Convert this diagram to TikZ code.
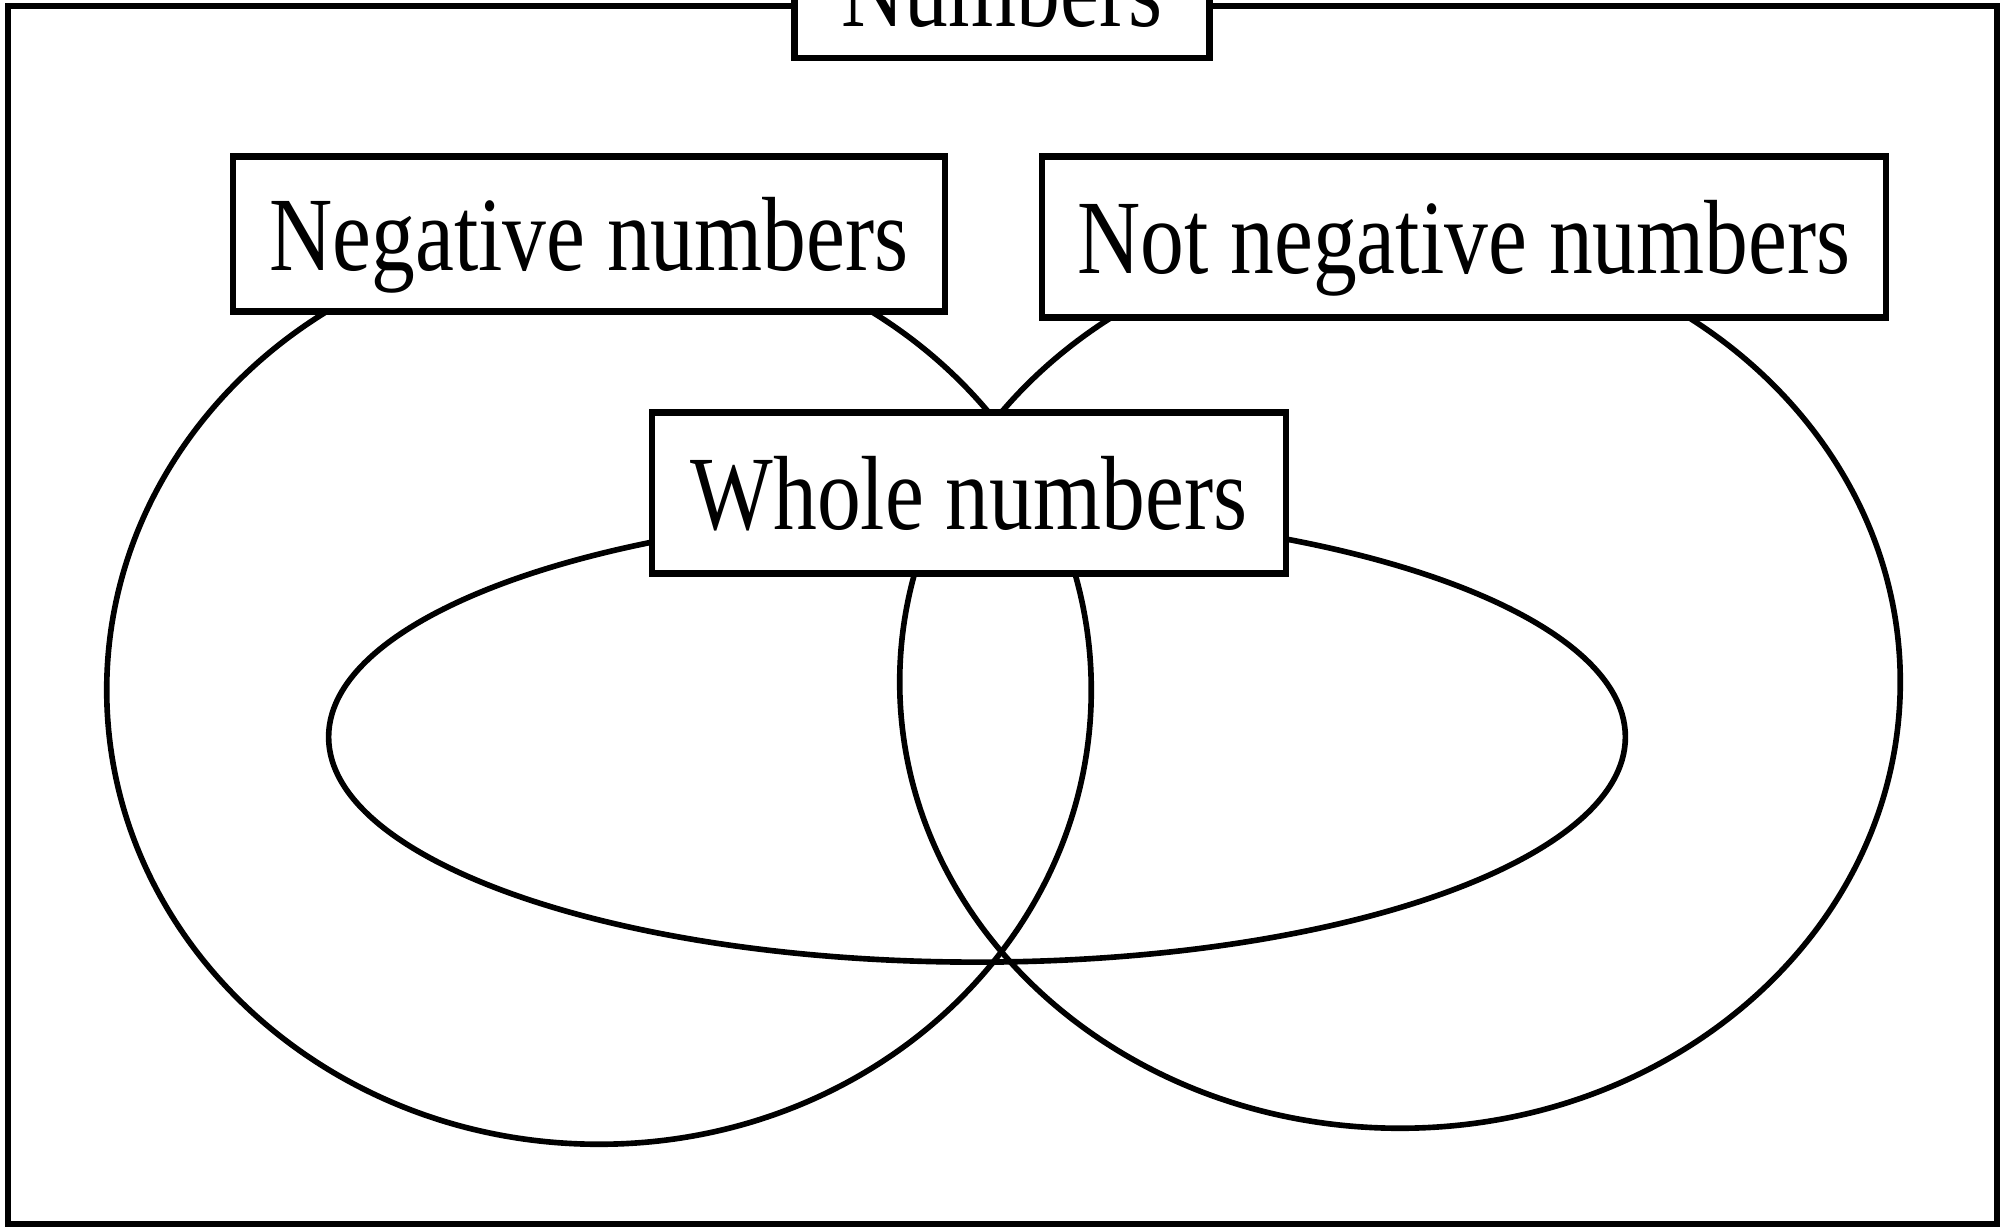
\documentclass[tikz,border=0pt]{standalone}
\usepackage{fontspec}
\newfontfamily\condserif[FakeStretch=0.83]{Liberation Serif}
\usepackage{tikz}
\usetikzlibrary{positioning}

\begin{document}
\begin{tikzpicture}[
    x=0.01cm, y=-0.01cm,
    setbox/.style={draw, line width=1.8pt, fill=white, inner sep=0pt, text height=0.73cm, text depth=0cm, font=\condserif\fontsize{30}{36}\selectfont},
    setline/.style={line width=1.6pt}
]
\useasboundingbox (0,0) rectangle (2005,1228);
\clip (0,0) rectangle (2005,1228);

% universe
\draw[line width=1.8pt] (8,6) rectangle (1997,1224);

% the three sets
\draw[setline] (599,690) ellipse [x radius=4.92cm, y radius=4.54cm];
\draw[setline] (1400,682) ellipse [x radius=5.00cm, y radius=4.46cm];
\draw[setline] (977,737) ellipse [x radius=6.48cm, y radius=2.25cm];

% labels
\node[setbox, minimum width=4.15cm, minimum height=1.36cm] (numbers) at (1002,-10) {Numbers};
\node[setbox, minimum width=7.12cm, minimum height=1.55cm] (neg) at (589,234) {Negative numbers};
\node[setbox, minimum width=8.43cm, minimum height=1.61cm] (notneg) at (1464,237) {Not negative numbers};
\node[setbox, minimum width=6.33cm, minimum height=1.61cm] (whole) at (969,493) {Whole numbers};
\end{tikzpicture}
\end{document}
